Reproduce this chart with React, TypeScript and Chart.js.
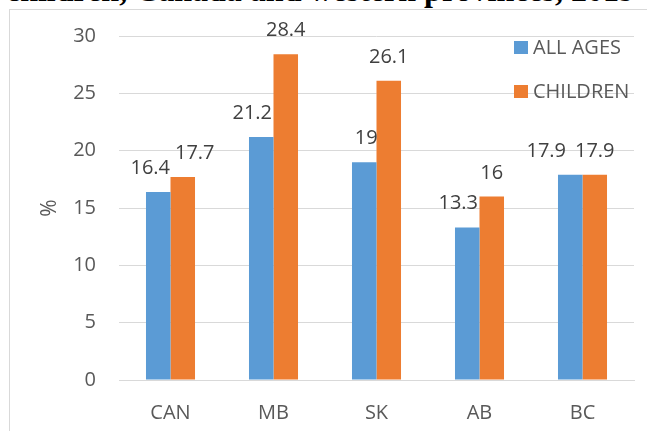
import React, { useEffect, useRef } from "react";
import { Chart, registerables } from "chart.js";

Chart.register(...registerables);

const titleText = "children, Canada and western provinces, 2019";
const categories = ["CAN", "MB", "SK", "AB", "BC"];
const seriesNames = ["ALL AGES", "CHILDREN"];
const allAges = [16.4, 21.2, 19, 13.3, 17.9];
const children = [17.7, 28.4, 26.1, 16, 17.9];
const yMin = 0;
const yMax = 30;
const yStep = 5;
const yTitle = "%";
// horizontal nudges of the value labels (Excel moved overlapping labels apart)
const allAgesLabelShift = [-8, -9, 2, -9, -24];
const childrenLabelShift = [12, 0, 0, 0, 0];

const BLUE = "#5B9BD5";
const ORANGE = "#ED7D31";
const TEXT = "#595959";
const GRID = "#D9D9D9";
const FONT = "'Open Sans', sans-serif";

const valueLabels = {
  id: "valueLabels",
  afterDatasetsDraw(chart: any) {
    const ctx = chart.ctx;
    ctx.save();
    ctx.font = `20px ${FONT}`;
    ctx.fillStyle = "#404040";
    ctx.textAlign = "center";
    ctx.textBaseline = "alphabetic";
    const shifts = [allAgesLabelShift, childrenLabelShift];
    chart.data.datasets.forEach((ds: any, di: number) => {
      const meta = chart.getDatasetMeta(di);
      meta.data.forEach((el: any, i: number) => {
        const v = ds.data[i];
        ctx.fillText(String(v), el.x + shifts[di][i], el.y - 18);
      });
    });
    ctx.restore();
  },
};

const insideLegend = {
  id: "insideLegend",
  afterDraw(chart: any) {
    const ctx = chart.ctx;
    const area = chart.chartArea;
    ctx.save();
    ctx.font = `20px ${FONT}`;
    ctx.textAlign = "left";
    ctx.textBaseline = "middle";
    chart.data.datasets.forEach((ds: any, i: number) => {
      const cy = area.top + 11.5 + i * 44;
      ctx.fillStyle = ds.backgroundColor;
      ctx.fillRect(area.right - 120, cy - 6.5, 14, 13);
      ctx.fillStyle = TEXT;
      ctx.fillText(ds.label, area.right - 101, cy + 1);
    });
    ctx.restore();
  },
};

function BarChart() {
  const ref = useRef<HTMLCanvasElement | null>(null);
  useEffect(() => {
    if (!ref.current) return;
    const chart = new Chart(ref.current, {
      type: "bar",
      data: {
        labels: categories,
        datasets: [
          {
            label: seriesNames[0],
            data: allAges,
            backgroundColor: BLUE,
            categoryPercentage: 0.476,
            barPercentage: 1,
          },
          {
            label: seriesNames[1],
            data: children,
            backgroundColor: ORANGE,
            categoryPercentage: 0.476,
            barPercentage: 1,
          },
        ],
      },
      options: {
        responsive: false,
        animation: false,
        devicePixelRatio: 1,
        layout: { padding: { left: 0, right: 13, top: 36, bottom: 0 } },
        plugins: {
          legend: { display: false },
          tooltip: { enabled: false },
          title: { display: false },
        },
        scales: {
          x: {
            grid: { display: false },
            border: { display: true, color: GRID },
            ticks: { color: TEXT, font: { family: FONT, size: 20 }, padding: 13 },
            afterFit: (s: any) => {
              s.height = 51;
            },
          },
          y: {
            min: yMin,
            max: yMax,
            ticks: {
              stepSize: yStep,
              color: TEXT,
              font: { family: FONT, size: 20 },
              padding: 23,
            },
            grid: { color: GRID, drawTicks: false },
            border: { display: false },
            title: {
              display: true,
              text: yTitle,
              color: TEXT,
              font: { family: FONT, size: 21 },
              padding: { top: 37, bottom: 0 },
            },
            afterFit: (s: any) => {
              s.width = 119;
            },
          },
        },
      },
      plugins: [valueLabels, insideLegend],
    } as any);
    return () => chart.destroy();
  }, []);
  return (
    <canvas
      ref={ref}
      width={647}
      height={431}
      style={{ position: "absolute", left: 0, top: 0, width: 647, height: 431 }}
    />
  );
}

export default function App() {
  return (
    <div
      style={{
        position: "fixed",
        left: 0,
        top: 0,
        width: 647,
        height: 431,
        overflow: "hidden",
        background: "#fff",
      }}
    >
      <div
        style={{
          position: "absolute",
          left: -3,
          top: -26,
          width: 647,
          textAlign: "center",
          font: "bold 32px 'Liberation Serif', serif",
          lineHeight: "32px",
          whiteSpace: "nowrap",
          color: "#000",
        }}
      >
        {titleText}
      </div>
      <div
        style={{
          position: "absolute",
          left: 9,
          top: 9,
          width: 700,
          height: 500,
          borderLeft: `1px solid ${GRID}`,
          borderTop: `1px solid ${GRID}`,
        }}
      />
      <BarChart />
    </div>
  );
}
